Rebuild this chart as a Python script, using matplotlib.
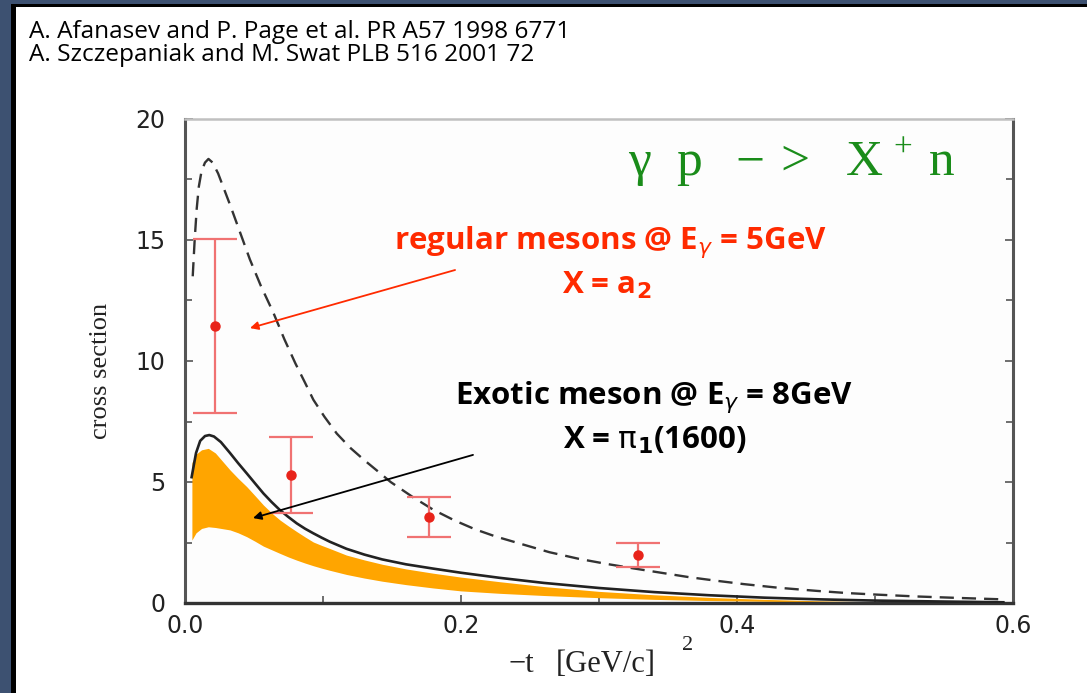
import matplotlib
matplotlib.use("Agg")
import matplotlib.pyplot as plt
from matplotlib.patches import Rectangle
from matplotlib.ticker import MultipleLocator

# ---------------- data ----------------
t_dashed = [0.0056, 0.007, 0.0085, 0.010, 0.012, 0.0145, 0.017, 0.020, 0.024, 0.028,
            0.033, 0.040, 0.047, 0.055, 0.064, 0.072, 0.080, 0.087, 0.093, 0.101,
            0.110, 0.120, 0.130, 0.140, 0.149, 0.165, 0.180, 0.195, 0.210, 0.225,
            0.240, 0.264, 0.285, 0.305, 0.325, 0.345, 0.365, 0.385, 0.405, 0.430,
            0.458, 0.480, 0.500, 0.530, 0.560, 0.593]
y_dashed = [13.5, 15.0, 16.3, 17.2, 17.85, 18.2, 18.35, 18.2, 17.75, 17.15,
            16.4, 15.3, 14.2, 13.1, 12.0, 10.9, 9.9, 9.1, 8.4, 7.7,
            7.0, 6.4, 5.9, 5.43, 5.0, 4.38, 3.85, 3.42, 3.05, 2.75,
            2.5, 2.1, 1.83, 1.62, 1.43, 1.25, 1.07, 0.92, 0.78, 0.63,
            0.50, 0.41, 0.35, 0.27, 0.21, 0.15]

t_solid = [0.0048, 0.008, 0.011, 0.0145, 0.0176, 0.021, 0.026, 0.0326, 0.0385, 0.0447,
           0.0508, 0.0568, 0.0628, 0.0688, 0.075, 0.081, 0.087, 0.093, 0.099, 0.105,
           0.117, 0.130, 0.143, 0.160, 0.180, 0.200, 0.228, 0.260, 0.300, 0.340,
           0.380, 0.420, 0.460, 0.500, 0.550, 0.593]
y_solid = [5.2, 6.2, 6.7, 6.9, 6.94, 6.88, 6.65, 6.2, 5.78, 5.36,
           4.94, 4.53, 4.17, 3.84, 3.55, 3.29, 3.07, 2.88, 2.70, 2.53,
           2.24, 2.0, 1.8, 1.6, 1.42, 1.25, 1.04, 0.83, 0.62, 0.45,
           0.32, 0.22, 0.15, 0.10, 0.06, 0.03]

t_band = [0.005, 0.008, 0.012, 0.0169, 0.022, 0.0326, 0.0385, 0.0447, 0.0508, 0.0568,
          0.0628, 0.0688, 0.075, 0.081, 0.087, 0.093, 0.099, 0.105, 0.117, 0.130,
          0.143, 0.160, 0.180, 0.200, 0.228, 0.260, 0.300, 0.340, 0.380, 0.420,
          0.460, 0.500, 0.550, 0.590]
band_hi = [5.8, 6.15, 6.33, 6.39, 6.2, 5.5, 5.15, 4.81, 4.43, 4.05,
           3.72, 3.43, 3.18, 2.95, 2.73, 2.52, 2.38, 2.25, 1.98, 1.78,
           1.6, 1.41, 1.23, 1.07, 0.88, 0.68, 0.48, 0.34, 0.23, 0.15,
           0.09, 0.05, 0.02, 0.01]
band_lo = [2.6, 2.9, 3.08, 3.15, 3.12, 3.02, 2.9, 2.74, 2.55, 2.35,
           2.2, 2.05, 1.9, 1.77, 1.65, 1.54, 1.44, 1.35, 1.18, 1.03,
           0.9, 0.76, 0.62, 0.5, 0.4, 0.31, 0.22, 0.15, 0.1, 0.07,
           0.04, 0.02, 0.01, 0.0]

t_points = [0.0217, 0.0768, 0.177, 0.328]
y_points = [11.45, 5.29, 3.55, 1.98]
err_up = [15.03 - 11.45, 6.86 - 5.29, 4.38 - 3.55, 2.49 - 1.98]
err_dn = [11.45 - 7.85, 5.29 - 3.72, 3.55 - 2.73, 1.98 - 1.47]

x_ticks = [0.0, 0.2, 0.4, 0.6]
x_ticklabels = ["0.0", "0.2", "0.4", "0.6"]
y_ticks = [0, 5, 10, 15, 20]
y_ticklabels = ["0", "5", "10", "15", "20"]

ref_lines = ["A. Afanasev and P. Page et al. PR A57 1998 6771",
             "A. Szczepaniak and M. Swat PLB 516 2001 72"]

# ---------------- figure ----------------
W, H = 1087, 693
fig = plt.figure(figsize=(W / 100, H / 100), dpi=100)
fig.patch.set_facecolor("#3d5171")

def fx(px):
    return px / W

def fy(py):
    return 1 - py / H

# slide panel
fig.add_artist(Rectangle((fx(11), 0), 1, fy(4), transform=fig.transFigure,
                         facecolor="black", edgecolor="none", zorder=0))
fig.add_artist(Rectangle((fx(16), 0), 1, fy(7), transform=fig.transFigure,
                         facecolor="white", edgecolor="none", zorder=0))

sans = ["Open Sans", "DejaVu Sans"]
for i, line in enumerate(ref_lines):
    fig.text(fx(29), fy(32 + 23 * i), line, family=sans, fontsize=17.6,
             color="black", va="center", ha="left")

ax = fig.add_axes([fx(185), fy(603), fx(1013) - fx(185), fy(119) - fy(603)])
ax.set_facecolor("#fdfdfd")
ax.set_xlim(0, 0.6)
ax.set_ylim(0, 20)

ax.fill_between(t_band, band_lo, band_hi, color="#ffa500", linewidth=0, zorder=2)
ax.plot(t_solid, y_solid, color="#222222", lw=1.9, zorder=3,
        solid_joinstyle="round")
ax.plot(t_dashed, y_dashed, color="#333333", lw=1.7, linestyle=(0, (6.0, 3.4)), zorder=3)
ax.errorbar(t_points, y_points, yerr=[err_dn, err_up], fmt="o", color="#e8231a",
            ms=6.5, ecolor="#f07272", elinewidth=1.6, capsize=16, capthick=1.6, zorder=4)

# axes styling
ax.set_xticks(x_ticks)
ax.set_xticklabels(x_ticklabels)
ax.set_yticks(y_ticks)
ax.set_yticklabels(y_ticklabels)
ax.xaxis.set_minor_locator(MultipleLocator(0.1))
ax.yaxis.set_minor_locator(MultipleLocator(2.5))
ax.tick_params(labelsize=17, labelfontfamily="DejaVu Sans", labelcolor="#222222")
ax.tick_params(axis="y", which="both", direction="in", left=True, right=True,
               length=6, width=1.2, color="#555555", pad=14)
ax.tick_params(axis="x", which="both", direction="in", bottom=True, top=False,
               length=6, width=1.2, color="#555555", pad=8)
ax.tick_params(which="minor", length=5)
for side, c, lw in [("left", "#555555", 2.2), ("bottom", "#333333", 2.4),
                    ("right", "#555555", 2.2), ("top", "#c0c0c0", 1.8)]:
    ax.spines[side].set_color(c)
    ax.spines[side].set_linewidth(lw)

serif = ["Liberation Serif", "DejaVu Serif"]
fig.text(fx(101), fy(371), "cross section", family=serif, fontsize=19,
         rotation=90, ha="center", va="center", color="#222222")
fig.text(fx(508), fy(665), "\u2212t", family=serif, fontsize=22,
         ha="left", va="center", color="#222222")
fig.text(fx(556), fy(665), "[GeV/c]", family=serif, fontsize=22,
         ha="left", va="center", color="#222222")
fig.text(fx(682), fy(646), "2", family=serif, fontsize=16,
         ha="left", va="center", color="#222222")

# green reaction label (pieces placed like the slide)
green = "#1a8c1a"
for px, s in [(628, "\u03b3"), (676, "p"), (735, "\u2212"), (780, ">"),
              (846, "X"), (929, "n")]:
    fig.text(fx(px), fy(175), s, family=serif, fontsize=37, color=green,
             ha="left", va="baseline")
fig.text(fx(893), fy(157), "+", family=serif, fontsize=24, color=green,
         ha="left", va="baseline")

# annotations
red = "#ff2a00"
fig.text(fx(610), fy(242), r"regular mesons @ E$_{\gamma}$ = 5GeV", family=sans,
         fontsize=22.5, fontweight="bold", color=red, ha="center", va="center")
fig.text(fx(607), fy(285), r"X = a$_{\mathbf{2}}$", family=sans,
         fontsize=22.5, fontweight="bold", color=red, ha="center", va="center")
fig.text(fx(654), fy(397), r"Exotic meson @ E$_{\gamma}$ = 8GeV", family=sans,
         fontsize=22.5, fontweight="bold", color="black", ha="center", va="center")
fig.text(fx(655), fy(440), r"X = $\mathrm{\pi}_{\mathbf{1}}$(1600)", family=sans,
         fontsize=22.5, fontweight="bold", color="black", ha="center", va="center")

ax.annotate("", xy=(0.0471, 11.36), xytext=(0.1957, 13.76),
            arrowprops=dict(arrowstyle="-|>", color=red, lw=1.3, mutation_scale=12,
                            shrinkA=0, shrinkB=0), zorder=5)
ax.annotate("", xy=(0.0493, 3.51), xytext=(0.2087, 6.12),
            arrowprops=dict(arrowstyle="-|>", color="black", lw=1.3, mutation_scale=12,
                            shrinkA=0, shrinkB=0), zorder=5)

fig.savefig("out.png", dpi=100, facecolor=fig.get_facecolor())
